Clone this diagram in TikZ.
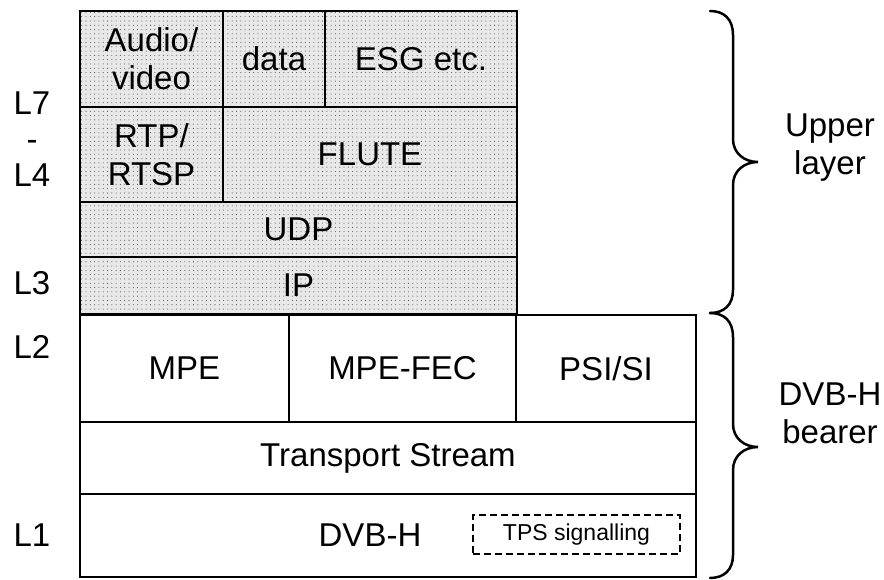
\documentclass[tikz,border=0pt]{standalone}
\usepackage{fontspec}
\setmainfont{Liberation Sans}
\usetikzlibrary{patterns.meta}

\begin{document}
\begin{tikzpicture}[x=1pt,y=-1pt,
  cell/.style={draw=black, line width=2.8pt, inner sep=0pt, align=center,
    font=\fontsize{33}{38}\selectfont},
  shaded/.style={cell, preaction={fill=black!9},
    pattern={Dots[distance=4.3pt, radius=0.55pt]}, pattern color=black!65},
  lyr/.style={font=\fontsize{33}{38}\selectfont, align=center, inner sep=0pt},
  tps/.style={draw=black, line width=1.6pt, dash pattern=on 7pt off 4pt,
    inner sep=0pt, font=\fontsize{23}{27}\selectfont},
  brc/.style={draw=black, line width=2.5pt, line cap=round}
]
\useasboundingbox (0,0) rectangle (884,580);

% upper layers (IP and above)
\node[shaded, minimum width=143, minimum height=96] (av)   at (151.5,59)   {Audio/\\video};
\node[shaded, minimum width=102, minimum height=96] (data) at (274,59)     {data};
\node[shaded, minimum width=192, minimum height=96] (esg)  at (421,59)     {ESG etc.};
\node[shaded, minimum width=143, minimum height=95] (rtp)  at (151.5,154.5) {RTP/\\RTSP};
\node[shaded, minimum width=294, minimum height=95] (flute) at (370,154.5) {FLUTE};
\node[shaded, minimum width=437, minimum height=55] (udp)  at (298.5,229.5) {UDP};
\node[shaded, minimum width=437, minimum height=57] (ip)   at (298.5,285.5) {IP};

% DVB-H bearer
\node[cell, minimum width=209, minimum height=107] (mpe)    at (184.5,368.5) {MPE};
\node[cell, minimum width=227, minimum height=107] (mpefec) at (402.5,368.5) {MPE-FEC};
\node[cell, minimum width=180, minimum height=107] (psi)    at (606,368.5)   {PSI/SI};
\node[cell, minimum width=616, minimum height=72]  (ts)     at (388,458)     {Transport Stream};
\node[cell, minimum width=616, minimum height=83]  (phy)    at (388,535.5)   {};
\node[lyr] (phytxt) at (370,535.5) {DVB-H};
\node[tps, minimum width=207, minimum height=39] (tps) at (576.5,534.5) {TPS signalling};

% OSI layer numbers
\node[lyr] (l7) at (32,103) {L7};
\node[lyr] (ldash) at (32,145) {-};
\node[lyr] (l4) at (32,175) {L4};
\node[lyr] (l3) at (32,283) {L3};
\node[lyr] (l2) at (32,347) {L2};
\node[lyr] (l1) at (32,535) {L1};

% braces
\draw[brc] (710,11) .. controls (724,11) and (733,19) .. (733,35)
  -- (733,139) .. controls (733,153) and (744,162) .. (758,162)
  .. controls (744,162) and (733,171) .. (733,185)
  -- (733,290) .. controls (733,305) and (724,313) .. (710,313);
\draw[brc] (710,313) .. controls (724,313) and (733,321) .. (733,337)
  -- (733,424) .. controls (733,438) and (744,447) .. (758,447)
  .. controls (744,447) and (733,456) .. (733,470)
  -- (733,555) .. controls (733,570) and (724,578) .. (710,578);

\node[lyr] (upper) at (830,148) {Upper\\layer};
\node[lyr] (bearer) at (830,413) {DVB-H\\bearer};
\end{tikzpicture}
\end{document}
